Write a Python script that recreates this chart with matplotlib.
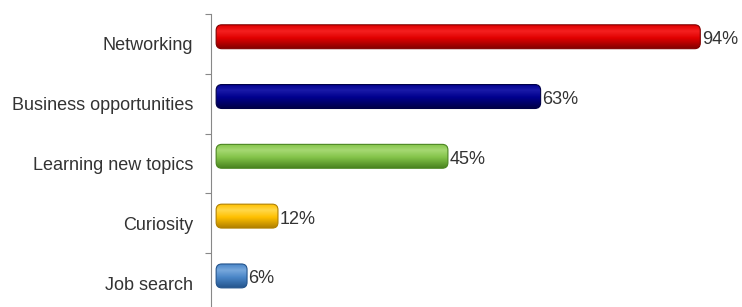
import numpy as np
import matplotlib.pyplot as plt
from matplotlib.patches import FancyBboxPatch
from matplotlib.colors import LinearSegmentedColormap

plt.rcParams['font.family'] = ['Liberation Sans', 'DejaVu Sans']

# data
categories = ['Networking', 'Business opportunities', 'Learning new topics', 'Curiosity', 'Job search']
values = [94, 63, 45, 12, 6]
labels = ['94%', '63%', '45%', '12%', '6%']

# (light, base, dark) per bar
bar_colors = [
    ('#f52020', '#e00000', '#800000'),
    ('#1a1aa8', '#00008e', '#000048'),
    ('#a6d872', '#84c44a', '#4a8420'),
    ('#ffd84a', '#ffc000', '#b08000'),
    ('#78a8dc', '#4a86c8', '#24548c'),
]

fig = plt.figure(figsize=(7.42, 3.07), dpi=100)
ax = fig.add_axes([211 / 742, 1 - 313 / 307, 531 / 742, 299 / 307])

ypos = np.arange(len(categories))
bar_h = 0.40
shift = 0.12  # bars sit a bit above the category centre (3d look)

bars = ax.barh(ypos - shift, values, height=bar_h, color='none', edgecolor='none')

ax.set_xlim(-1, 102.1)
ax.set_ylim(len(categories) - 0.5, -0.5)

# px per data unit, for rounded ends
px_x = 531 / 103.1
px_y = 299 / 5.0
aspect = (1 / px_y) / (1 / px_x)

for b, cols, lab in zip(bars, bar_colors, labels):
    x0, y0 = b.get_x(), b.get_y()
    w, h = b.get_width(), b.get_height()
    light, base, dark = cols
    cmap = LinearSegmentedColormap.from_list('g', [(0, base), (0.25, light), (0.55, base), (1, dark)])
    patch = FancyBboxPatch((x0, y0), w, h, boxstyle='round,pad=0,rounding_size=1.1',
                           mutation_aspect=aspect, facecolor='none', edgecolor=dark,
                           linewidth=0.8, zorder=3)
    ax.add_patch(patch)
    grad = np.linspace(0, 1, 64).reshape(-1, 1)
    im = ax.imshow(grad, cmap=cmap, aspect='auto', extent=(x0, x0 + w, y0 + h, y0),
                   origin='upper', zorder=2)
    im.set_clip_path(patch)
    ax.text(x0 + w + 0.3, y0 + h / 2 + 0.05, lab, va='center', ha='left',
            fontsize=13, color='#333333')

ax.set_xlim(-1, 102.1)
ax.set_ylim(len(categories) - 0.5, -0.5)

ax.set_yticks(ypos)
ax.set_yticklabels(categories, fontsize=13, color='#333333')
ax.tick_params(axis='y', which='major', length=0, pad=13)
ax.set_yticks(np.arange(len(categories) + 1) - 0.5, minor=True)
ax.tick_params(axis='y', which='minor', length=4, color='#888888', width=0.8)
ax.set_xticks([])

for s in ['top', 'right', 'bottom']:
    ax.spines[s].set_visible(False)
ax.spines['left'].set_color('#888888')
ax.spines['left'].set_linewidth(0.8)

fig.savefig('out.png', dpi=100)
